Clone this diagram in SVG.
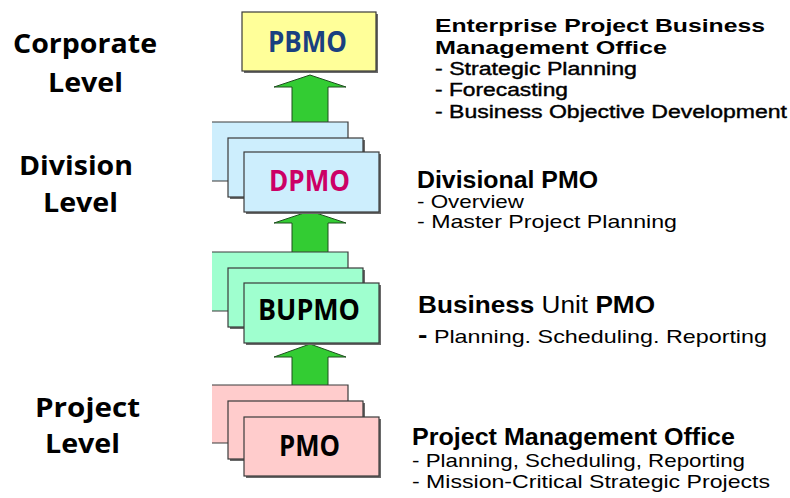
<svg xmlns="http://www.w3.org/2000/svg" width="790" height="498" viewBox="0 0 790 498">
<style>
.lvl{font-family:"Open Sans","DejaVu Sans",sans-serif;font-weight:700;font-size:27px;fill:#000;text-anchor:middle}
.box{stroke:#3a3a3a;stroke-width:1.2}
.shadow{fill:#6a6a6a}
.btxt{font-family:"Open Sans","DejaVu Sans",sans-serif;font-weight:700;font-size:29px;text-anchor:middle}
.h1{font-family:"Liberation Sans",Arial,sans-serif;font-weight:700;font-size:19px;fill:#000}
.h1b{font-family:"Liberation Sans",Arial,sans-serif;font-weight:400;font-size:18px;fill:#000;stroke:#000;stroke-width:0.4}
.h2{font-family:"Liberation Sans",Arial,sans-serif;font-weight:700;font-size:23px;fill:#000}
.t2{font-family:"Liberation Sans",Arial,sans-serif;font-size:19px;fill:#000}
.arrow{fill:#33cc33;stroke:#1f4f1f;stroke-width:1}
.yel{fill:#ffff99}.blu{fill:#cdeefd}.grn{fill:#9fffcf}.pnk{fill:#ffcccc}
</style>

<g id="level-labels">
<text class="lvl" x="85" y="53" textLength="144" lengthAdjust="spacingAndGlyphs">Corporate</text>
<text class="lvl" x="85.5" y="92" textLength="75" lengthAdjust="spacingAndGlyphs">Level</text>
<text class="lvl" x="76" y="175" textLength="114" lengthAdjust="spacingAndGlyphs">Division</text>
<text class="lvl" x="80.5" y="212" textLength="75" lengthAdjust="spacingAndGlyphs">Level</text>
<text class="lvl" x="87.5" y="417" textLength="105" lengthAdjust="spacingAndGlyphs">Project</text>
<text class="lvl" x="82.5" y="453" textLength="75" lengthAdjust="spacingAndGlyphs">Level</text>
</g>

<g id="connectors">
<polygon class="arrow" points="310,75 346,87 328,87 328,123 292,123 292,87 274,87"/>
<polygon class="arrow" points="310,211 346,223 328,223 328,254 292,254 292,223 274,223"/>
<polygon class="arrow" points="310,344 346,357 328,357 328,387 292,387 292,357 274,357"/>
</g>

<g id="PBMO">
<rect class="shadow" x="244" y="14" width="134" height="59"/>
<rect class="box yel" x="242" y="12" width="134" height="59"/>
<text class="btxt" x="307.5" y="52" fill="#1a4080" textLength="79" lengthAdjust="spacingAndGlyphs">PBMO</text>
</g>

<g id="DPMO">
<rect class="blu" x="212" y="122" width="136" height="59"/>
<polyline points="212,122 348,122 348,181 212,181" fill="none" stroke="#3a3a3a" stroke-width="1.2"/>
<rect class="shadow" x="230" y="140" width="135" height="59"/>
<rect class="box blu" x="228" y="138" width="135" height="59"/>
<rect class="shadow" x="246" y="154" width="135" height="60"/>
<rect class="box blu" x="244" y="152" width="135" height="60"/>
<text class="btxt" x="309.5" y="191" fill="#cc0066" textLength="81" lengthAdjust="spacingAndGlyphs">DPMO</text>
</g>

<g id="BUPMO">
<rect class="grn" x="212" y="252" width="136" height="59"/>
<polyline points="212,252 348,252 348,311 212,311" fill="none" stroke="#3a3a3a" stroke-width="1.2"/>
<rect class="shadow" x="230" y="270" width="135" height="59"/>
<rect class="box grn" x="228" y="268" width="135" height="59"/>
<rect class="shadow" x="246" y="285" width="135" height="60"/>
<rect class="box grn" x="244" y="283" width="135" height="60"/>
<text class="btxt" x="309" y="320" fill="#000" textLength="102" lengthAdjust="spacingAndGlyphs">BUPMO</text>
</g>

<g id="PMO">
<rect class="pnk" x="212" y="385" width="136" height="58"/>
<polyline points="212,385 348,385 348,443 212,443" fill="none" stroke="#3a3a3a" stroke-width="1.2"/>
<rect class="shadow" x="230" y="403" width="135" height="58"/>
<rect class="box pnk" x="228" y="401" width="135" height="58"/>
<rect class="shadow" x="246" y="419" width="135" height="59"/>
<rect class="box pnk" x="244" y="417" width="135" height="59"/>
<text class="btxt" x="309.5" y="456" fill="#000" textLength="61" lengthAdjust="spacingAndGlyphs">PMO</text>
</g>

<g id="desc-enterprise">
<text class="h1" x="435" y="32" textLength="330" lengthAdjust="spacingAndGlyphs">Enterprise Project Business</text>
<text class="h1" x="435" y="54" textLength="232" lengthAdjust="spacingAndGlyphs">Management Office</text>
<text class="h1b" x="435" y="75" textLength="202" lengthAdjust="spacingAndGlyphs">- Strategic Planning</text>
<text class="h1b" x="435" y="96" textLength="133" lengthAdjust="spacingAndGlyphs">- Forecasting</text>
<text class="h1b" x="435" y="118" textLength="352" lengthAdjust="spacingAndGlyphs">- Business Objective Development</text>
</g>

<g id="desc-divisional">
<text class="h2" x="417" y="188" textLength="181" lengthAdjust="spacingAndGlyphs">Divisional PMO</text>
<text class="t2" x="417" y="208" textLength="107" lengthAdjust="spacingAndGlyphs">- Overview</text>
<text class="t2" x="417" y="228" textLength="260" lengthAdjust="spacingAndGlyphs">- Master Project Planning</text>
</g>

<g id="desc-bu">
<text class="h2" x="418" y="313" textLength="237" lengthAdjust="spacingAndGlyphs">Business <tspan font-weight="400">Unit</tspan> PMO</text>
<text class="t2" x="418" y="343" textLength="349" lengthAdjust="spacingAndGlyphs"><tspan font-weight="700" font-size="23">-</tspan> Planning. Scheduling. Reporting</text>
</g>

<g id="desc-project">
<text class="h2" x="412" y="445" textLength="323" lengthAdjust="spacingAndGlyphs">Project Management Office</text>
<text class="t2" x="412" y="467" textLength="333" lengthAdjust="spacingAndGlyphs">- Planning, Scheduling, Reporting</text>
<text class="t2" x="412" y="488" textLength="358" lengthAdjust="spacingAndGlyphs">- Mission-Critical Strategic Projects</text>
</g>
</svg>
